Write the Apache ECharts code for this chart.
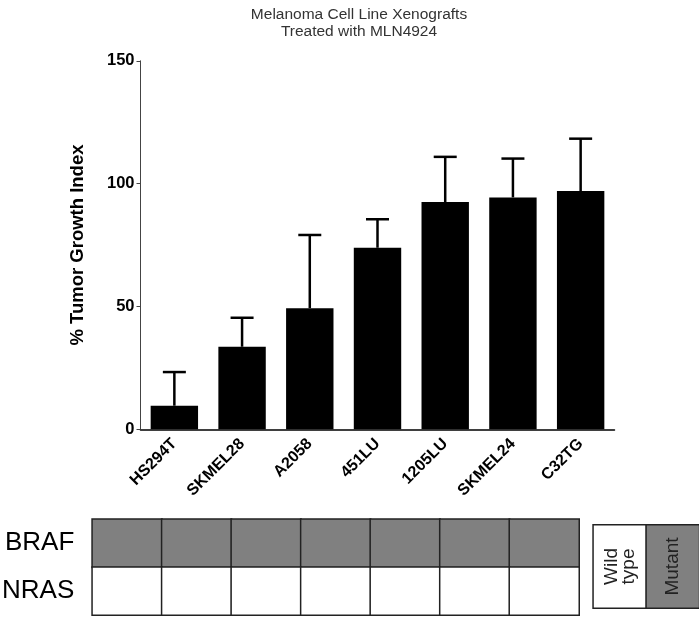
<!DOCTYPE html>
<html>
<head>
<meta charset="utf-8">
<script src="https://cdn.jsdelivr.net/npm/echarts@6/dist/echarts.min.js"></script>
<style>
  html, body { margin: 0; padding: 0; background: #fff; }
  #chart { width: 699px; height: 617px; }
</style>
</head>
<body>
<div id="chart"></div>
<script>
// cell lines and tumour growth index (mean + upper error)
var cellLines = ['HS294T', 'SKMEL28', 'A2058', '451LU', '1205LU', 'SKMEL24', 'C32TG'];
var tgiMean = [9.6, 33.6, 49.3, 73.9, 92.5, 94.4, 97.0];
var tgiErr = [13.7, 11.8, 29.8, 11.6, 18.4, 15.8, 21.3];
var yTicks = [0, 50, 100, 150];

// mutation status table: 1 = mutant, 0 = wild type
var genes = ['BRAF', 'NRAS'];
var brafStatus = [1, 1, 1, 1, 1, 1, 1];
var nrasStatus = [0, 0, 0, 0, 0, 0, 0];
var keyLabels = ['Wild\ntype', 'Mutant'];
var keyStatus = [0, 1];

var FONT = 'Liberation Sans, Arial, sans-serif';

var myChart = echarts.init(document.getElementById('chart'));

// heatmap cells [x, y, status]
var tableData = [];
brafStatus.forEach(function (v, i) { tableData.push([i, 0, v]); });
nrasStatus.forEach(function (v, i) { tableData.push([i, 1, v]); });
var keyData = keyStatus.map(function (v, i) { return [i, 0, v]; });

var errData = tgiMean.map(function (m, i) { return [i, m, m + tgiErr[i]]; });

var option = {
    backgroundColor: '#fff',
    animation: false,
    title: {
        text: 'Melanoma Cell Line Xenografts\nTreated with MLN4924',
        left: 354,
        textAlign: 'center',
        top: 1,
        textStyle: {
            fontFamily: FONT,
            fontSize: 15.5,
            fontWeight: 'normal',
            color: '#333',
            lineHeight: 17
        }
    },
    visualMap: {
        show: false,
        type: 'piecewise',
        seriesIndex: [2, 3],
        dimension: 2,
        pieces: [
            { value: 0, color: '#ffffff' },
            { value: 1, color: '#808080' }
        ]
    },
    grid: [
        { left: 140.5, width: 474, top: 60.8, height: 368.5, outerBoundsMode: 'none' },
        { left: 92.3, width: 486.7, top: 519.3, height: 95.7, outerBoundsMode: 'none' },
        { left: 593.3, width: 106, top: 525, height: 83, outerBoundsMode: 'none' }
    ],
    xAxis: [{
        gridIndex: 0,
        type: 'category',
        data: cellLines,
        axisLine: { lineStyle: { color: '#000', width: 1.5 } },
        axisTick: { alignWithLabel: true, length: 5, lineStyle: { color: '#000', width: 1.5 } },
        axisLabel: {
            interval: 0,
            rotate: 45,
            margin: 12,
            fontFamily: FONT,
            fontSize: 16,
            fontWeight: 'bold',
            color: '#000'
        }
    }, {
        gridIndex: 1,
        type: 'category',
        data: cellLines,
        show: false
    }, {
        gridIndex: 2,
        type: 'category',
        data: keyLabels,
        show: false
    }],
    yAxis: [{
        gridIndex: 0,
        type: 'value',
        min: yTicks[0],
        max: yTicks[yTicks.length - 1],
        interval: 50,
        name: '% Tumor Growth Index',
        nameLocation: 'middle',
        nameGap: 53,
        nameTextStyle: {
            fontFamily: FONT,
            fontSize: 18.5,
            fontWeight: 'bold',
            color: '#000'
        },
        splitLine: { show: false },
        axisLine: { show: true, lineStyle: { color: '#444', width: 1 } },
        axisTick: { show: true, length: 4, lineStyle: { color: '#444' } },
        axisLabel: {
            margin: 6,
            fontFamily: FONT,
            fontSize: 16.5,
            fontWeight: 'bold',
            color: '#000'
        }
    }, {
        gridIndex: 1,
        type: 'category',
        data: genes,
        inverse: true,
        axisLine: { show: false },
        axisTick: { show: false },
        axisLabel: {
            margin: 18,
            fontFamily: FONT,
            fontSize: 26,
            color: '#000'
        }
    }, {
        gridIndex: 2,
        type: 'category',
        data: ['key'],
        show: false
    }],
    series: [{
        type: 'bar',
        xAxisIndex: 0,
        yAxisIndex: 0,
        data: tgiMean,
        barCategoryGap: '30%',
        itemStyle: { color: '#000' },
        z: 2
    }, {
        type: 'custom',
        xAxisIndex: 0,
        yAxisIndex: 0,
        data: errData,
        z: 3,
        renderItem: function (params, api) {
            var base = api.coord([api.value(0), api.value(1)]);
            var top = api.coord([api.value(0), api.value(2)]);
            var half = 11.5;
            var style = { stroke: '#000', lineWidth: 2.5 };
            return {
                type: 'group',
                children: [{
                    type: 'line',
                    shape: { x1: base[0], y1: base[1], x2: top[0], y2: top[1] },
                    style: style
                }, {
                    type: 'line',
                    shape: { x1: top[0] - half, y1: top[1], x2: top[0] + half, y2: top[1] },
                    style: style
                }]
            };
        }
    }, {
        type: 'heatmap',
        xAxisIndex: 1,
        yAxisIndex: 1,
        data: tableData,
        itemStyle: { borderColor: '#222', borderWidth: 1.5 },
        emphasis: { disabled: true }
    }, {
        type: 'heatmap',
        xAxisIndex: 2,
        yAxisIndex: 2,
        data: keyData,
        itemStyle: { borderColor: '#222', borderWidth: 1.5 },
        label: {
            show: true,
            rotate: 90,
            fontFamily: FONT,
            fontSize: 19,
            lineHeight: 17,
            color: '#222',
            formatter: function (p) { return keyLabels[p.data[0]]; }
        },
        emphasis: { disabled: true }
    }]
};

myChart.setOption(option);
window.addEventListener('resize', function () {
    myChart.resize();
});
</script>
</body>
</html>
